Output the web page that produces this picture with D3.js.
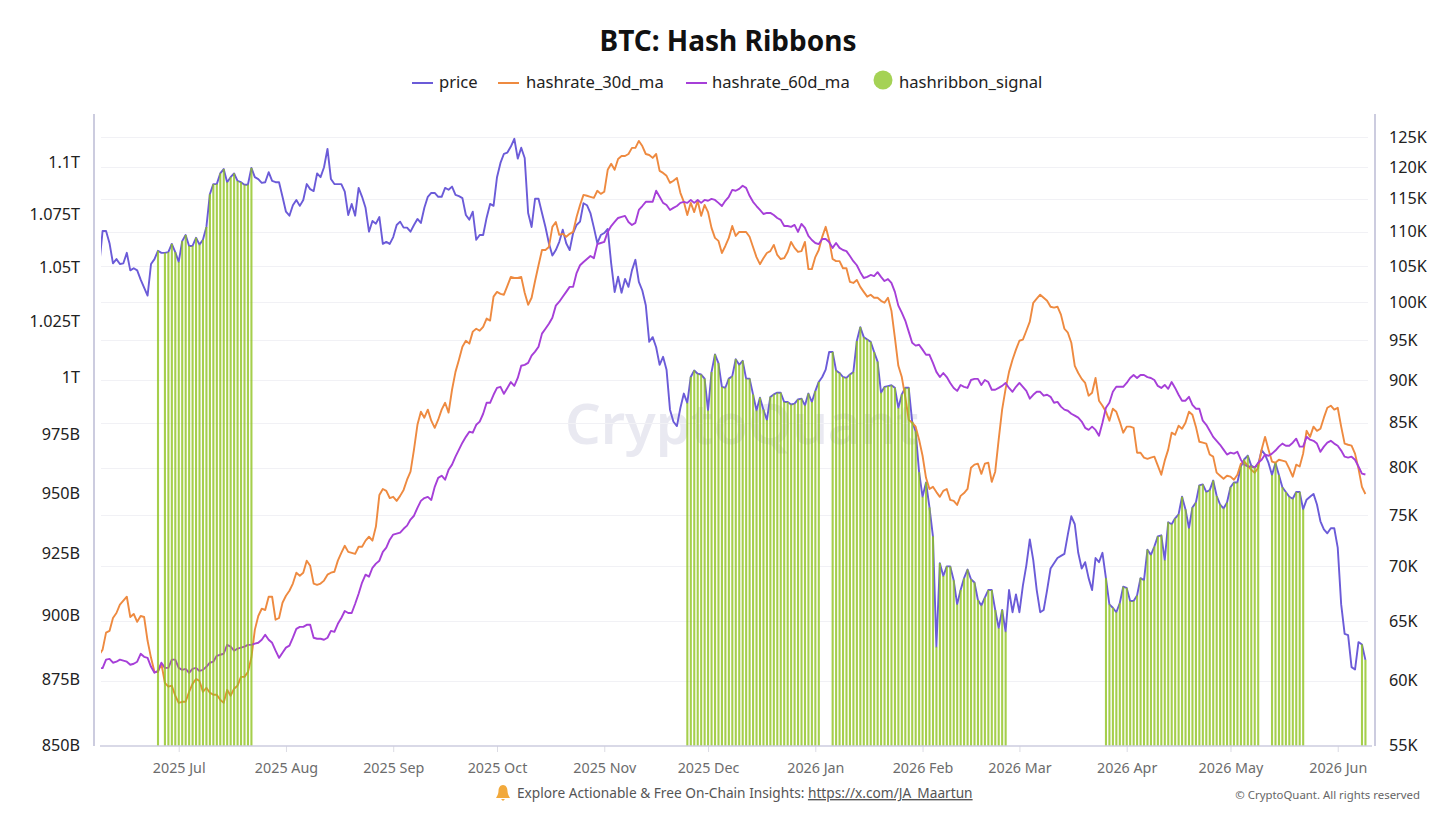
<!DOCTYPE html>
<html>
  <head>
    <meta charset="UTF-8">
    <title>BTC: Hash Ribbons</title>
    <style>
      body { margin: 0; background: #fff; }
      text { font-family: "Noto Sans", "Open Sans", sans-serif; }
      .grid line { stroke: #f1f1f5; stroke-width: 1px; }
      .axis-y text { font-size: 16.2px; fill: #222; }
      .axis-x text { font-size: 14.3px; fill: #6c6c6c; }
      .axis-x line { stroke: #dcdce4; }
      .edge { stroke: #ccccdf; stroke-width: 2px; }
      .series { fill: none; stroke-width: 1.9px; stroke-linejoin: round; }
    </style>
    <script src="https://d3js.org/d3.v7.min.js"></script>
  </head>
  <body>
    <script type="text/javascript">
      // One value per day, starting on firstDay.
      var firstDay = "2025-06-08";

      // BTC price in thousands of USD (right axis).
      var price = [
        105.0,110.1,110.1,108.3,105.4,106.0,105.3,105.4,106.9,104.4,104.7,104.4,103.1,102.0,100.9,105.3,106.0,107.2,106.9,106.9,
        107.0,108.2,107.0,105.6,108.6,109.5,107.9,107.9,109.1,108.1,108.8,110.7,115.7,117.3,117.3,119.0,119.7,117.6,118.4,119.0,
        117.8,117.6,117.2,117.2,119.9,118.4,118.1,117.5,117.6,119.2,117.8,117.6,117.6,115.3,113.0,112.4,114.0,114.8,113.9,114.8,
        117.3,116.5,116.2,119.0,118.4,120.0,123.0,118.1,117.3,117.3,117.3,116.1,112.5,114.2,112.4,116.7,115.3,113.6,110.0,111.6,
        111.2,112.2,108.2,108.5,108.2,109.2,111.0,111.5,110.6,110.6,110.0,111.0,111.9,111.3,113.6,115.3,115.9,115.9,115.3,115.3,
        116.7,116.4,116.9,115.6,115.4,115.1,112.5,111.8,113.0,108.8,109.5,109.5,112.1,114.2,113.9,118.4,120.7,122.2,122.4,123.4,
        124.7,121.4,123.2,121.5,112.8,110.7,115.0,115.0,112.8,110.7,108.3,106.5,107.3,108.5,110.3,108.3,107.3,109.8,111.0,111.5,
        114.3,114.0,112.8,110.6,108.3,109.5,109.8,110.4,105.4,101.4,103.5,101.3,103.2,102.1,104.4,105.9,102.8,101.6,99.6,94.8,
        95.4,94.1,91.9,92.9,91.3,86.5,85.1,84.6,86.7,88.4,87.3,90.4,91.2,90.8,90.7,90.2,86.4,91.0,93.2,92.1,
        89.2,89.1,90.2,90.5,92.6,91.9,92.4,90.2,90.2,88.3,86.4,87.9,86.5,85.3,88.0,88.3,88.5,88.5,87.4,87.4,
        87.1,87.2,87.7,87.8,87.0,88.4,87.4,88.7,89.8,90.4,91.3,93.5,93.5,91.2,90.9,90.4,90.3,90.7,91.0,94.9,
        96.7,95.4,95.1,94.8,93.5,92.3,88.5,89.2,89.3,89.4,89.1,86.7,88.3,89.1,89.1,85.1,84.0,79.5,76.9,78.4,
        75.8,72.9,62.8,70.3,69.1,70.0,70.0,68.7,66.5,67.8,68.9,69.7,68.8,68.5,66.9,66.4,67.1,67.8,67.8,66.0,
        64.4,66.0,64.1,67.8,65.8,67.4,65.8,68.2,70.1,72.6,70.6,67.8,65.8,66.0,67.8,69.8,70.3,70.8,71.0,71.2,
        73.1,74.9,74.1,71.3,69.8,70.4,68.9,67.8,70.8,70.4,71.3,68.9,66.5,66.2,65.8,66.6,68.1,68.0,66.8,66.8,
        67.3,68.9,68.7,71.6,71.1,71.9,72.9,73.0,70.6,74.3,74.1,74.7,75.1,76.9,75.6,73.7,75.8,76.3,78.1,78.2,
        77.4,77.6,78.6,77.0,76.1,75.7,76.3,77.9,78.4,78.4,80.1,80.9,81.3,80.2,80.0,80.3,81.9,81.4,80.5,79.2,
        80.5,79.2,77.9,77.4,76.9,76.7,77.4,77.4,75.6,76.6,76.9,77.2,76.1,74.4,73.6,73.2,73.7,73.7,71.8,66.5,
        63.9,63.8,61.1,60.9,63.2,63.0,61.7
      ];

      // 30 day hashrate average in billions (left axis).
      var hashrate30 = [
        884.6,886.6,893.3,894.0,899.1,901.1,904.4,906.0,907.6,899.5,900.7,897.6,899.9,899.5,890.1,883.4,877.9,877.9,881.1,873.7,
        872.2,872.6,868.7,866.0,866.4,866.4,870.2,873.3,875.2,874.4,870.2,871.8,869.9,869.1,869.1,867.2,866.0,871.0,868.7,871.4,
        872.6,876.0,876.0,877.9,883.4,894.4,899.9,902.8,902.3,907.6,907.6,898.4,899.1,905.2,908.0,910.0,912.9,917.3,916.1,917.3,
        922.2,920.1,912.9,912.4,912.9,914.1,916.5,917.3,917.7,922.2,925.4,928.3,925.8,925.4,925.0,927.9,927.9,930.4,932.0,930.4,
        936.2,949.4,951.9,951.1,948.1,948.6,946.9,949.0,951.5,955.8,959.2,968.6,979.3,985.0,982.4,985.9,981.1,978.0,981.5,985.9,
        988.9,984.6,994.6,1002.5,1007.9,1013.7,1016.4,1015.1,1020.5,1021.8,1020.9,1022.7,1026.4,1025.5,1036.4,1038.6,1037.7,1037.3,1041.4,1045.5,
        1045.0,1045.0,1045.5,1038.2,1032.7,1035.9,1043.6,1050.9,1058.0,1058.0,1059.4,1068.9,1071.2,1065.1,1065.6,1064.2,1065.6,1066.5,1073.6,1079.3,
        1084.1,1083.7,1083.2,1082.7,1086.1,1084.6,1085.6,1096.2,1099.1,1096.2,1101.5,1102.9,1102.9,1103.9,1106.9,1106.9,1110.3,1107.8,1103.9,1103.4,
        1102.0,1103.9,1095.7,1094.7,1093.3,1089.9,1090.9,1092.3,1085.1,1080.8,1074.5,1080.3,1075.9,1081.3,1074.1,1079.3,1075.9,1068.4,1063.7,1062.3,
        1056.6,1059.9,1063.7,1069.3,1064.6,1066.5,1066.5,1066.5,1064.2,1059.4,1054.7,1051.4,1054.2,1056.6,1057.5,1060.4,1055.7,1053.8,1054.2,1057.1,
        1061.8,1059.0,1057.1,1057.5,1061.8,1049.1,1049.1,1054.7,1058.0,1064.2,1068.9,1062.7,1053.8,1052.8,1052.8,1049.5,1049.5,1043.2,1042.7,1044.1,
        1040.9,1038.6,1036.4,1037.3,1035.9,1035.9,1034.5,1033.6,1035.9,1030.0,1017.8,1005.2,1000.2,991.5,981.5,980.2,978.5,972.9,966.0,956.6,
        951.9,952.8,950.6,948.6,951.1,951.9,947.3,946.9,945.2,949.0,950.2,951.9,960.9,962.2,962.6,958.3,962.6,963.0,954.9,959.2,
        972.9,985.9,995.0,1002.5,1007.9,1012.4,1016.4,1016.9,1020.9,1025.0,1033.6,1035.5,1037.3,1035.9,1034.5,1031.8,1031.4,1031.8,1028.2,1021.8,
        1020.0,1015.5,1005.2,1002.0,999.4,997.6,992.0,993.3,999.8,989.8,987.6,985.0,981.1,986.3,985.0,980.7,975.9,978.5,978.5,978.0,
        967.3,967.3,965.2,964.7,965.2,965.6,961.8,957.9,963.9,968.6,975.9,975.0,978.9,977.6,980.2,985.0,983.7,978.5,972.0,971.6,
        971.2,966.5,965.6,958.8,957.5,956.2,957.5,957.1,955.8,957.9,962.6,963.5,961.8,960.0,958.8,960.9,968.6,974.1,968.6,963.5,
        963.0,964.3,963.9,963.5,960.5,957.1,962.2,961.4,966.9,976.7,974.1,978.5,976.7,977.6,982.4,986.7,987.6,985.9,986.7,978.5,
        971.2,970.7,970.3,966.9,960.5,952.8,949.8
      ];

      // 60 day hashrate average in billions (left axis).
      var hashrate60 = [
        879.4,879.4,882.7,883.0,881.5,881.9,882.7,882.3,881.9,880.7,881.1,881.9,885.0,883.8,883.4,879.9,877.6,878.3,881.5,879.5,
        879.5,882.7,882.7,879.5,878.7,879.1,877.6,879.1,879.5,878.3,878.7,879.9,881.5,881.9,884.2,884.6,885.0,888.5,887.8,886.2,
        887.0,887.4,887.8,888.5,888.5,889.0,889.3,890.5,892.5,890.5,889.3,886.2,883.4,885.4,887.4,888.2,891.3,894.8,895.6,895.6,
        896.4,896.4,891.3,890.9,890.9,890.5,891.3,894.0,893.6,896.8,899.1,901.9,901.1,901.1,904.8,908.8,913.3,916.5,915.7,919.3,
        921.0,922.2,925.8,927.5,930.8,932.9,933.3,933.7,935.3,936.6,939.1,940.7,944.0,946.9,948.1,948.6,947.3,952.8,956.6,957.5,
        955.8,960.0,962.2,965.6,968.6,971.6,974.1,976.3,975.9,979.3,980.7,984.1,988.9,988.9,992.4,995.4,995.9,992.8,995.4,998.0,
        996.3,999.8,1005.2,1005.6,1006.5,1009.7,1011.5,1013.7,1019.6,1021.8,1024.1,1026.8,1032.3,1034.1,1036.4,1038.6,1040.9,1040.9,1047.3,1050.9,
        1052.4,1053.8,1055.2,1054.2,1060.8,1061.3,1061.8,1066.5,1069.3,1071.2,1073.1,1073.6,1074.1,1071.2,1069.8,1070.8,1076.9,1078.8,1080.8,1080.8,
        1080.8,1086.1,1083.2,1080.3,1079.3,1076.9,1077.9,1078.8,1080.3,1080.8,1080.3,1081.7,1080.3,1081.7,1080.3,1081.7,1081.3,1082.2,1081.7,1080.3,
        1078.8,1081.3,1083.2,1086.5,1086.1,1087.0,1088.5,1087.5,1083.7,1080.8,1078.8,1076.9,1075.0,1075.5,1075.5,1074.5,1073.1,1072.2,1069.3,1069.3,
        1068.9,1069.8,1066.5,1070.3,1068.4,1064.6,1062.7,1061.3,1060.8,1063.2,1063.2,1061.8,1059.0,1061.3,1059.0,1058.0,1057.5,1055.2,1052.8,1050.9,
        1047.7,1045.0,1045.5,1046.4,1045.9,1047.7,1045.5,1043.6,1044.5,1042.7,1038.6,1032.3,1029.1,1025.5,1020.5,1015.5,1014.2,1014.6,1012.4,1010.1,
        1010.1,1006.5,1002.5,1000.2,1002.0,1000.2,997.6,995.4,994.1,996.7,995.9,995.4,998.9,999.4,999.4,996.7,998.9,998.0,994.6,994.6,
        995.4,996.3,997.6,995.4,993.7,995.9,997.6,995.9,994.1,990.7,992.4,993.7,993.7,992.0,992.4,991.5,988.9,989.3,987.2,985.9,
        985.4,984.1,983.3,982.4,980.7,978.0,977.1,978.5,977.1,974.6,980.2,986.7,988.9,993.7,995.9,995.9,995.9,997.6,999.8,1001.1,
        999.8,1001.1,1001.1,1000.2,999.8,998.9,996.3,995.4,996.7,995.0,998.0,995.4,992.4,989.8,989.8,991.5,988.0,986.3,986.3,981.1,
        979.3,976.7,974.1,972.4,970.7,968.6,966.5,967.3,966.9,967.7,964.3,962.2,961.4,961.4,960.9,963.0,964.3,966.5,966.0,966.9,
        968.2,969.9,971.2,970.3,970.3,971.6,973.3,969.9,969.9,974.1,972.9,972.4,971.2,967.7,969.9,971.6,972.4,971.2,970.3,968.2,
        965.6,965.2,965.6,964.3,961.4,958.4,958.0
      ];

      // Days the hash ribbon signal is on.
      var signalStarts = ["2025-06-25", "2025-06-27", "2025-11-25", "2026-01-06", "2026-03-26", "2026-05-13", "2026-06-08"];
      var signalEnds   = ["2025-06-25", "2025-07-22", "2026-01-02", "2026-02-25", "2026-05-09", "2026-05-22", "2026-06-09"];

      var leftTicks = [850, 875, 900, 925, 950, 975, 1000, 1025, 1050, 1075, 1100];
      var rightTicks = [55, 60, 65, 70, 75, 80, 85, 90, 95, 100, 105, 110, 115, 120, 125];
      var monthTicks = ["2025-07-01", "2025-08-01", "2025-09-01", "2025-10-01", "2025-11-01", "2025-12-01",
                        "2026-01-01", "2026-02-01", "2026-03-01", "2026-04-01", "2026-05-01", "2026-06-01"];

      var seriesNames = ["price", "hashrate_30d_ma", "hashrate_60d_ma", "hashribbon_signal"];
      var seriesColors = ["#6b5bd8", "#ee8a40", "#a63fd8", "#a5d255"];

      /* ==== Setup ==== */
      var width = 1456, height = 819;
      var parseDay = d3.utcParse("%Y-%m-%d");
      var days = price.map(function(d, i) { return d3.utcDay.offset(parseDay(firstDay), i); });

      var svg = d3.select("body").append("svg")
          .attr("width", width)
          .attr("height", height);

      var x = d3.scaleUtc()
          .domain([days[0], days[days.length - 1]])
          .range([99.14, 1365.4]);

      var yLeft = d3.scaleLog().domain([850, 1100]).range([745, 162]);
      var yRight = d3.scaleLog().domain([55, 125]).range([745, 137]);

      svg.append("defs").append("clipPath").attr("id", "plot")
          .append("rect")
          .attr("x", 101).attr("y", 100)
          .attr("width", 1274).attr("height", 660);

      /* ==== Title and legend ==== */
      svg.append("text")
          .attr("x", 728).attr("y", 51)
          .attr("text-anchor", "middle")
          .style("font-size", "28px")
          .style("font-weight", 700)
          .style("fill", "#111")
          .text("BTC: Hash Ribbons");

      var legendSwatch = [412, 498, 686];
      var legendText = [439, 526, 712, 899];
      seriesNames.forEach(function(name, i) {
          if (i < 3) {
              svg.append("line")
                  .attr("x1", legendSwatch[i]).attr("x2", legendSwatch[i] + 21)
                  .attr("y1", 83).attr("y2", 83)
                  .style("stroke", seriesColors[i])
                  .style("stroke-width", 2);
          } else {
              svg.append("circle")
                  .attr("cx", 883).attr("cy", 80).attr("r", 9.5)
                  .style("fill", seriesColors[i]);
          }
          svg.append("text")
              .attr("x", legendText[i]).attr("y", 88)
              .style("font-size", "16.6px")
              .style("fill", "#222")
              .text(name);
      });

      /* ==== Watermark and grid ==== */
      svg.append("text")
          .attr("x", 565).attr("y", 444)
          .style("font-size", "56px")
          .style("font-weight", 600)
          .style("fill", "#e9e9f1")
          .text("CryptoQuant");

      svg.append("g").attr("class", "grid")
          .selectAll("line")
          .data(rightTicks.slice(1))
          .enter().append("line")
          .attr("x1", 101).attr("x2", 1368)
          .attr("y1", function(d) { return Math.round(yRight(d)) + 0.5; })
          .attr("y2", function(d) { return Math.round(yRight(d)) + 0.5; });

      /* ==== Lines, with the signal bars laid over them ==== */
      var linePrice = d3.line()
          .x(function(d, i) { return x(days[i]); })
          .y(function(d) { return yRight(d); });
      var lineHash = d3.line()
          .x(function(d, i) { return x(days[i]); })
          .y(function(d) { return yLeft(d); });

      var plot = svg.append("g").attr("clip-path", "url(#plot)");

      plot.append("path").attr("class", "series")
          .attr("d", linePrice(price))
          .style("stroke", seriesColors[0]);
      plot.append("path").attr("class", "series")
          .attr("d", lineHash(hashrate30))
          .style("stroke", seriesColors[1]);
      plot.append("path").attr("class", "series")
          .attr("d", lineHash(hashrate60))
          .style("stroke", seriesColors[2]);

      var signal = [];
      signalStarts.forEach(function(start, r) {
          d3.utcDay.range(parseDay(start), d3.utcDay.offset(parseDay(signalEnds[r]), 1)).forEach(function(day) {
              signal.push({day: day, value: price[d3.utcDay.count(days[0], day)]});
          });
      });

      plot.selectAll(".bar")
          .data(signal)
          .enter().append("rect")
          .attr("class", "bar")
          .attr("x", function(d) { return x(d.day) - 1; })
          .attr("y", function(d) { return yRight(d.value); })
          .attr("width", 2.1)
          .attr("height", function(d) { return 746 - yRight(d.value); })
          .style("fill", "#8fc31f")
          .style("opacity", 0.8);

      /* ==== Axes ==== */
      var axisLeft = d3.axisLeft(yLeft)
          .tickValues(leftTicks)
          .tickSize(0)
          .tickPadding(14)
          .tickFormat(function(d) { return d >= 1000 ? (d / 1000) + "T" : d + "B"; });

      var axisRight = d3.axisRight(yRight)
          .tickValues(rightTicks)
          .tickSize(0)
          .tickPadding(14)
          .tickFormat(function(d) { return d + "K"; });

      var axisBottom = d3.axisBottom(x)
          .tickValues(monthTicks.map(parseDay))
          .tickSize(6)
          .tickPadding(11)
          .tickFormat(d3.utcFormat("%Y %b"));

      svg.append("g").attr("class", "axis-y")
          .attr("transform", "translate(94,0)")
          .call(axisLeft)
          .call(function(g) { g.select(".domain").remove(); });

      svg.append("g").attr("class", "axis-y")
          .attr("transform", "translate(1375,0)")
          .call(axisRight)
          .call(function(g) { g.select(".domain").remove(); });

      svg.append("g").attr("class", "axis-x")
          .attr("transform", "translate(0,746)")
          .call(axisBottom)
          .call(function(g) { g.select(".domain").remove(); });

      svg.append("line").attr("class", "edge")
          .attr("x1", 94).attr("x2", 94).attr("y1", 114).attr("y2", 746);
      svg.append("line").attr("class", "edge")
          .attr("x1", 1375).attr("x2", 1375).attr("y1", 114).attr("y2", 746);
      svg.append("line").attr("class", "edge")
          .attr("x1", 100).attr("x2", 1372).attr("y1", 746).attr("y2", 746)
          .style("stroke-width", "1.5px");

      /* ==== Footer ==== */
      svg.append("path")
          .attr("transform", "translate(503,793)")
          .attr("d", "M0,-8 C3,-8 4.5,-5 4.5,-2 C4.5,1 6,3 7,5 L-7,5 C-6,3 -4.5,1 -4.5,-2 C-4.5,-5 -3,-8 0,-8 Z M-2,6 L2,6 L0,8 Z")
          .style("fill", "#f2a93b");

      var footer = svg.append("text")
          .attr("x", 517).attr("y", 798)
          .style("font-size", "13.7px")
          .style("fill", "#555");
      footer.append("tspan").text("Explore Actionable & Free On-Chain Insights: ");
      footer.append("tspan")
          .style("text-decoration", "underline")
          .text("https://x.com/JA_Maartun");

      svg.append("text")
          .attr("x", 1420).attr("y", 799)
          .attr("text-anchor", "end")
          .style("font-size", "11.4px")
          .style("fill", "#666")
          .text("© CryptoQuant. All rights reserved");
    </script>
  </body>
</html>
